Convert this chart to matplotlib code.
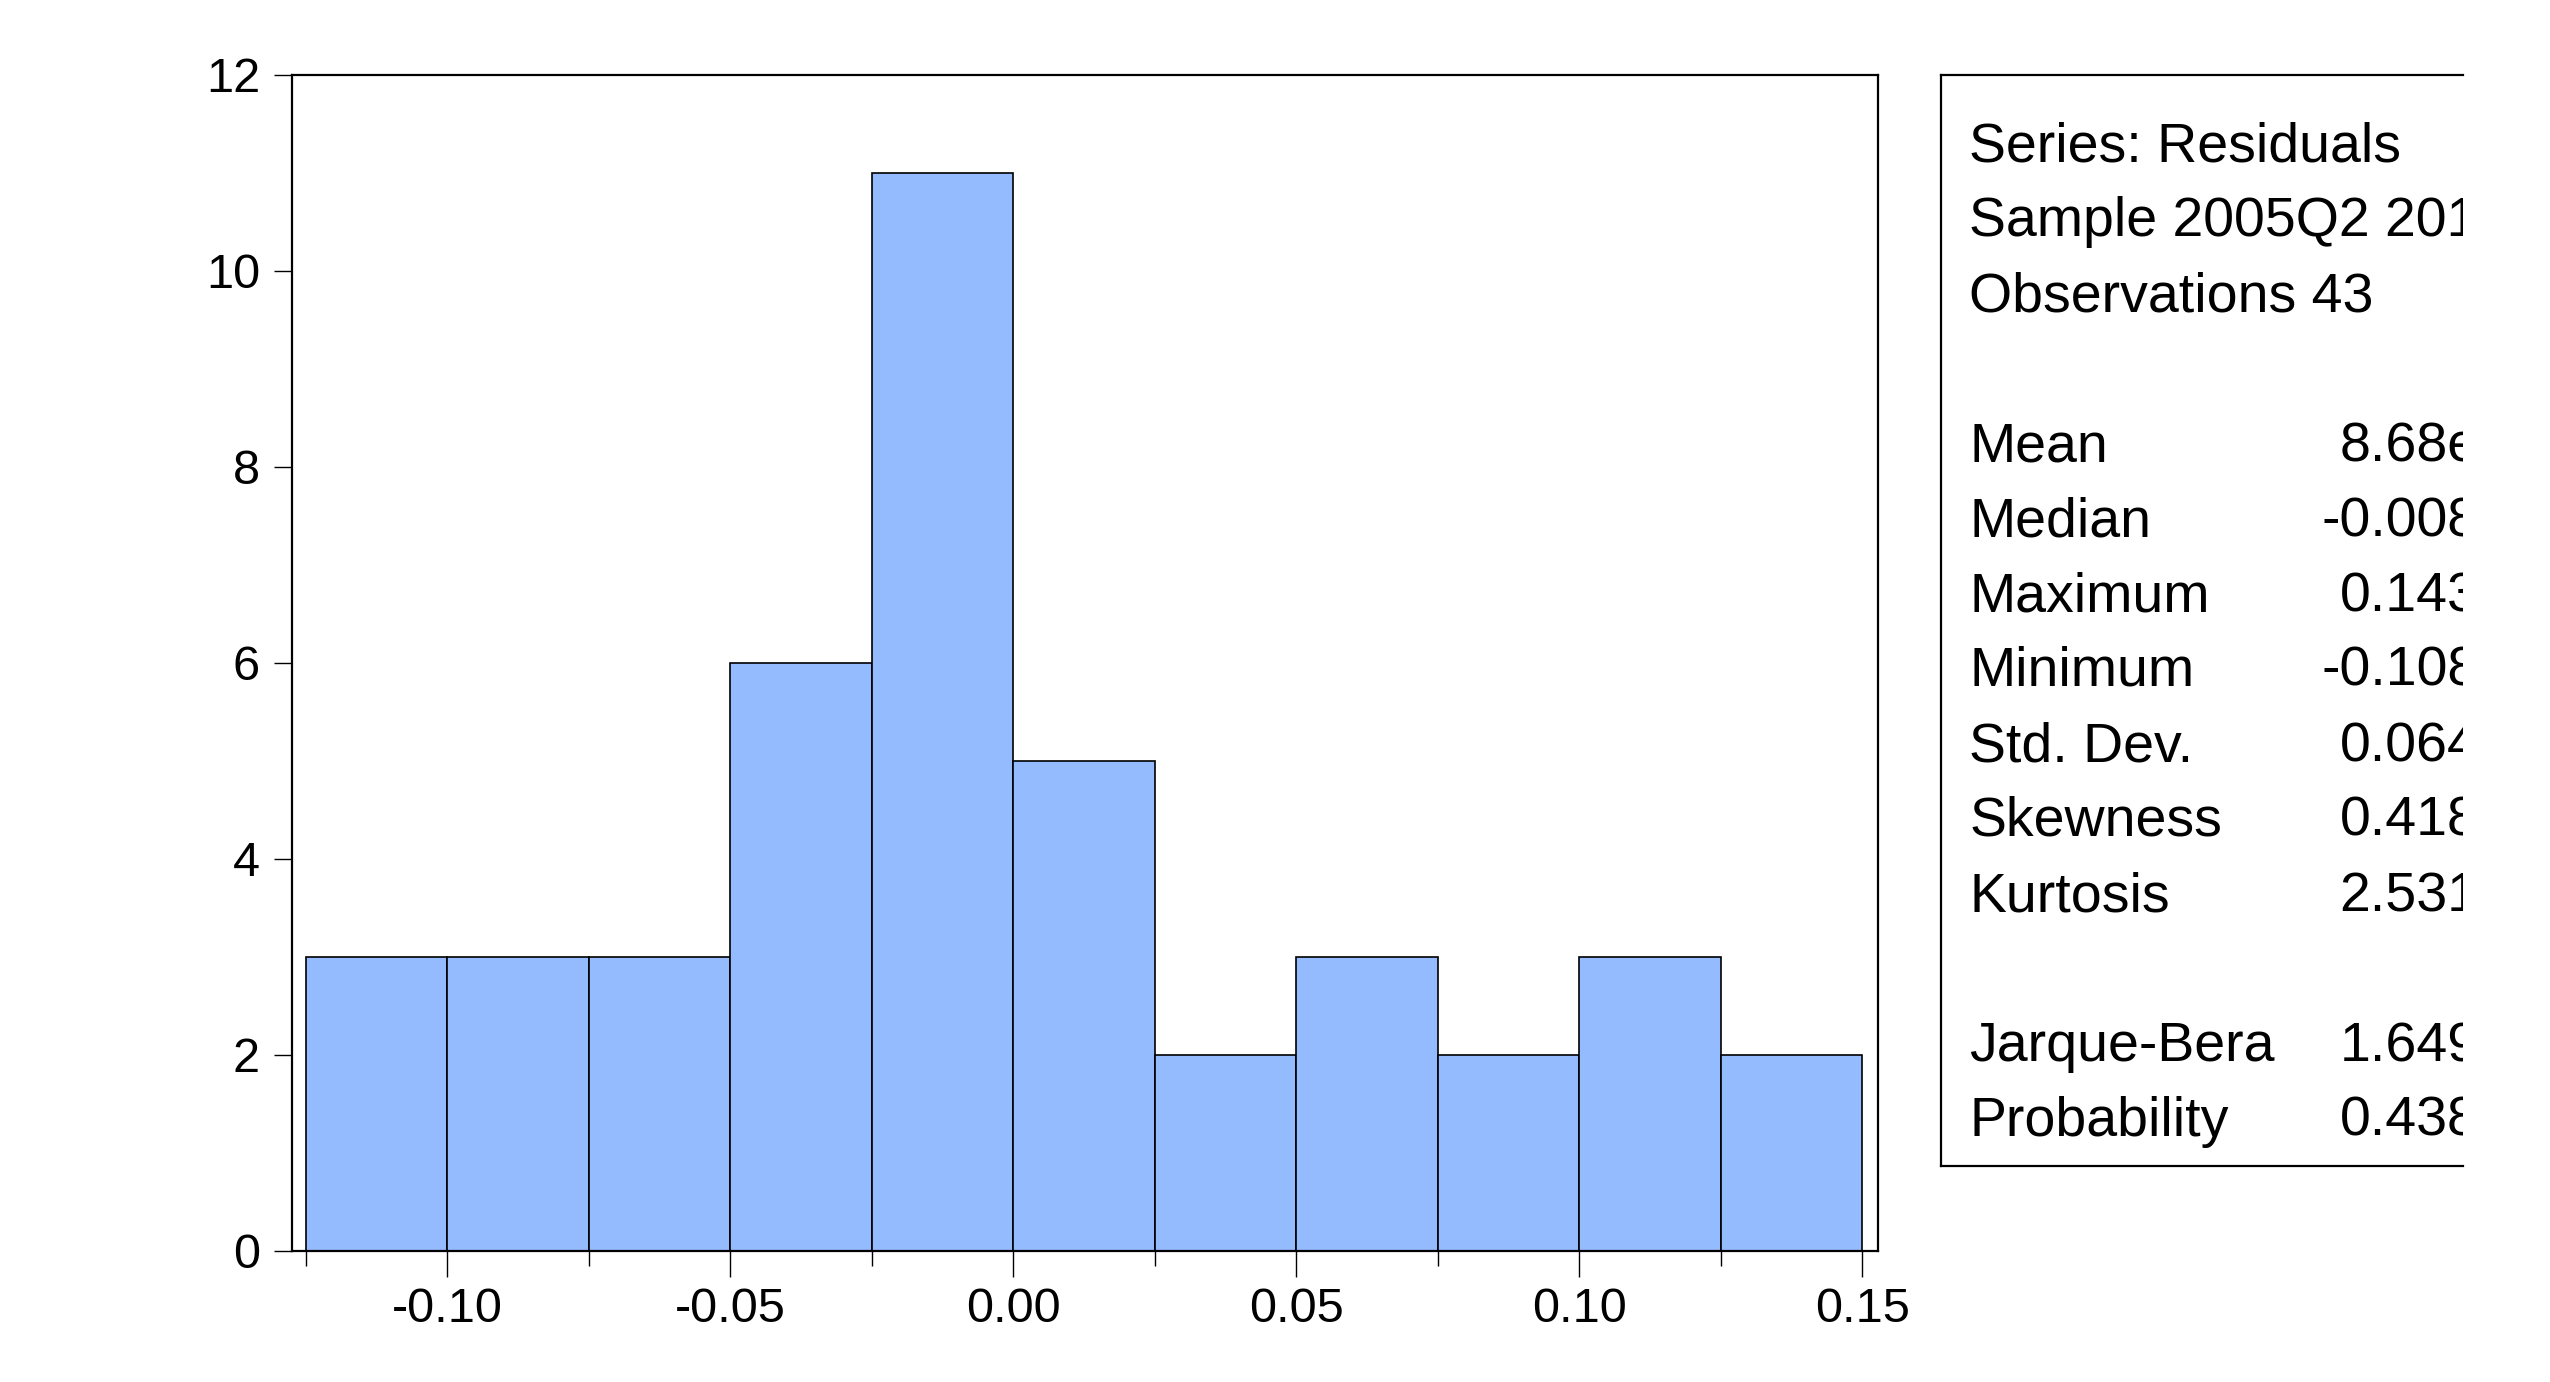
"""EViews-style residual histogram with descriptive statistics box."""
import numpy as np
import matplotlib; matplotlib.use("Agg")
import matplotlib.pyplot as plt
from matplotlib.ticker import MultipleLocator, FormatStrFormatter

# histogram bins (width 0.025) and counts
bin_edges = [-0.125, -0.100, -0.075, -0.050, -0.025, 0.000, 0.025,
             0.050, 0.075, 0.100, 0.125, 0.150]
counts = [3, 3, 3, 6, 11, 5, 2, 3, 2, 3, 2]

header = ["Series: Residuals", "Sample 2005Q2 2015Q4", "Observations 43"]
stat_names = ["Mean", "Median", "Maximum", "Minimum", "Std. Dev.", "Skewness", "Kurtosis"]
stat_vals = ["8.68e", "-0.008", "0.143", "-0.108", "0.064", "0.418", "2.531"]
test_names = ["Jarque-Bera", "Probability"]
test_vals = ["1.649", "0.438"]

plt.rcParams.update({"font.family": ["Liberation Sans", "DejaVu Sans"], "axes.linewidth": 1.6})

W, H = 2550, 1382
fig = plt.figure(figsize=(W / 100, H / 100), dpi=100)

# main histogram axes (pixel box 292..1878 x 75..1251)
ax = fig.add_axes([292 / W, 1 - 1251 / H, (1878 - 292) / W, (1251 - 75) / H])
widths = np.diff(bin_edges)
ax.bar(bin_edges[:-1], counts, width=widths, align="edge",
       color="#94bbfe", edgecolor="black", linewidth=1.2, zorder=2)
ax.set_xlim(-0.1274, 0.1528)
ax.set_ylim(0, 12)
ax.xaxis.set_major_locator(MultipleLocator(0.05))
ax.xaxis.set_minor_locator(MultipleLocator(0.025))
ax.xaxis.set_major_formatter(FormatStrFormatter("%.2f"))
ax.yaxis.set_major_locator(MultipleLocator(2))
ax.tick_params(axis="x", which="major", direction="out", length=19, width=1, labelsize=35, pad=7)
ax.tick_params(axis="x", which="minor", direction="out", length=11, width=1)
ax.tick_params(axis="y", direction="out", length=13, width=1, labelsize=35, pad=10)

# statistics box, clipped on the right like the original export
box = fig.add_axes([1941 / W, 1 - 1166 / H, (2463 - 1941) / W, (1166 - 75) / H])
box.set_xticks([]); box.set_yticks([])
box.spines["right"].set_visible(False)
box.set_xlim(0, 1); box.set_ylim(0, 1)

lines = [(t, None) for t in header] + [None] + \
        list(zip(stat_names, stat_vals)) + [None] + list(zip(test_names, test_vals))


def yfrac(i):
    base = 161 + 75 * i  # baseline in pixels from top
    return 1 - (base - 75) / (1166 - 75)


for i, item in enumerate(lines):
    if item is None:
        continue
    name, val = item
    box.text(0.054, yfrac(i), name, fontsize=40, va="baseline", ha="left", clip_on=True)
    if val is not None:
        box.text(1.03, yfrac(i), val, fontsize=40, va="baseline", ha="right", clip_on=True)

fig.savefig("out.png", dpi=100)
